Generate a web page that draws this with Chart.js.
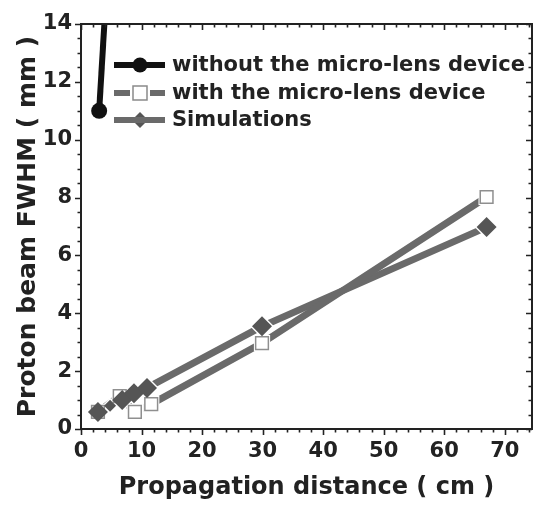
<!DOCTYPE html>
<html>
<head>
<meta charset="utf-8">
<script src="https://cdn.jsdelivr.net/npm/chart.js@4"></script>
<style>
  html, body { margin: 0; padding: 0; background: #fff; }
  #wrap { width: 537px; height: 506px; position: relative; }
</style>
</head>
<body>
<div id="wrap"><canvas id="fwhmChart"></canvas></div>
<script>
// Data
const withoutX = [3, 7];
const withoutY = [11, 25];

const withX = [2.8, 6.4, 8.9, 11.6, 29.9, 67];
const withY = [0.59, 1.14, 0.59, 0.86, 2.97, 8.02];

const simX = [2.8, 4.8, 6.8, 8.75, 10.9, 29.9, 67];
const simY = [0.59, 0.8, 1.0, 1.24, 1.42, 3.55, 6.98];

const xTicks = [0, 10, 20, 30, 40, 50, 60, 70];
const yTicks = [0, 2, 4, 6, 8, 10, 12, 14];

const seriesLabels = [
    'without the micro-lens device',
    'with the micro-lens device',
    'Simulations'
];

const TEXT = '#222';
const LINE_GRAY = '#6a6a6a';
const FONT = "'DejaVu Sans', sans-serif";

function toPoints(xs, ys) {
    return xs.map((x, i) => ({ x: x, y: ys[i] }));
}

// Frame with major/minor ticks on all four sides
const framePlugin = {
    id: 'frame',
    afterDraw(chart) {
        const { ctx, chartArea: a, scales } = chart;
        const xs = scales.x, ys = scales.y;
        ctx.save();
        ctx.strokeStyle = '#222';
        ctx.lineWidth = 2;
        ctx.strokeRect(a.left, a.top, a.right - a.left, a.bottom - a.top);
        ctx.lineWidth = 1.6;
        ctx.beginPath();
        for (let v = 0; v <= 74.5; v += 2) {
            const px = Math.round(xs.getPixelForValue(v)) + 0.5;
            const major = v % 10 === 0;
            const len = major ? 6 : 3.5;
            ctx.moveTo(px, a.bottom); ctx.lineTo(px, a.bottom + len);
            ctx.moveTo(px, a.top); ctx.lineTo(px, a.top + len);
        }
        for (let v = 0; v <= 14; v += 0.5) {
            const py = Math.round(ys.getPixelForValue(v)) + 0.5;
            const major = v % 2 === 0;
            const len = major ? 6 : 3.5;
            ctx.moveTo(a.left, py); ctx.lineTo(a.left - len, py);
            ctx.moveTo(a.right, py); ctx.lineTo(a.right - len, py);
        }
        ctx.stroke();
        ctx.restore();
    }
};

// Origin-style legend: line segment with a marker in the middle
const legendPlugin = {
    id: 'originLegend',
    afterDraw(chart) {
        const ctx = chart.ctx;
        const rows = [
            { y: 65, color: '#111', width: 6, marker: 'circle' },
            { y: 93, color: LINE_GRAY, width: 6, marker: 'square' },
            { y: 120, color: LINE_GRAY, width: 6, marker: 'diamond' }
        ];
        ctx.save();
        rows.forEach((r, i) => {
            ctx.strokeStyle = r.color;
            ctx.lineWidth = r.width;
            ctx.beginPath();
            ctx.moveTo(114, r.y); ctx.lineTo(130, r.y);
            ctx.moveTo(150, r.y); ctx.lineTo(165, r.y);
            ctx.stroke();
            const cx = 140;
            if (r.marker === 'circle') {
                ctx.fillStyle = '#111';
                ctx.beginPath(); ctx.arc(cx, r.y, 7.5, 0, Math.PI * 2); ctx.fill();
                ctx.fillRect(128, r.y - 3, 24, 6);
            } else if (r.marker === 'square') {
                ctx.fillStyle = '#fff';
                ctx.strokeStyle = '#8a8a8a';
                ctx.lineWidth = 1.5;
                ctx.fillRect(cx - 7, r.y - 7, 14, 14);
                ctx.strokeRect(cx - 7, r.y - 7, 14, 14);
            } else {
                ctx.fillStyle = '#555';
                ctx.beginPath();
                ctx.moveTo(cx, r.y - 8); ctx.lineTo(cx + 8, r.y);
                ctx.lineTo(cx, r.y + 8); ctx.lineTo(cx - 8, r.y);
                ctx.closePath(); ctx.fill();
                ctx.strokeStyle = LINE_GRAY;
                ctx.lineWidth = 6;
                ctx.beginPath();
                ctx.moveTo(128, r.y); ctx.lineTo(152, r.y);
                ctx.stroke();
            }
            ctx.fillStyle = TEXT;
            ctx.font = 'bold 21px ' + FONT;
            ctx.textBaseline = 'middle';
            ctx.fillText(seriesLabels[i], 172, r.y + 1);
        });
        ctx.restore();
    }
};

const ctx = document.getElementById('fwhmChart').getContext('2d');

new Chart(ctx, {
    type: 'scatter',
    data: {
        datasets: [
            // lines
            { data: toPoints(withoutX, withoutY), showLine: true, borderColor: '#111', borderWidth: 6,
              pointRadius: 0, order: 3 },
            { data: toPoints(withX, withY), showLine: true, borderColor: LINE_GRAY, borderWidth: 7,
              pointRadius: 0, order: 3 },
            { data: toPoints(simX, simY), showLine: true, borderColor: LINE_GRAY, borderWidth: 7,
              pointRadius: 0, order: 3 },
            // white halos to open small gaps in the lines around the markers
            { data: toPoints(withX, withY), pointStyle: 'rect', pointRadius: 11.5,
              backgroundColor: '#fff', borderWidth: 0, order: 2 },
            { data: toPoints(simX, simY), pointStyle: 'rectRot', pointRadius: [12, 8, 12, 12, 12, 12, 12],
              backgroundColor: '#fff', borderWidth: 0, order: 2 },
            // markers
            { label: seriesLabels[0], data: toPoints(withoutX, withoutY), pointStyle: 'circle', pointRadius: 8,
              backgroundColor: '#111', borderColor: '#111', borderWidth: 0, order: 1 },
            { label: seriesLabels[1], data: toPoints(withX, withY), pointStyle: 'rect', pointRadius: 9,
              backgroundColor: '#fff', borderColor: '#8f8f8f', borderWidth: 1.5, order: 1 },
            { label: seriesLabels[2], data: toPoints(simX, simY), pointStyle: 'rectRot',
              pointRadius: [10, 6, 10, 10, 10, 10, 10],
              backgroundColor: '#555', borderColor: '#555', borderWidth: 0, order: 0 }
        ]
    },
    options: {
        responsive: true,
        maintainAspectRatio: false,
        animation: false,
        layout: {
            autoPadding: false,
            padding: { top: 24, right: 5, left: 0, bottom: 0 }
        },
        plugins: {
            legend: { display: false },
            tooltip: { enabled: false }
        },
        scales: {
            x: {
                type: 'linear',
                min: 0,
                max: 74.5,
                grid: { display: false, drawTicks: false },
                border: { display: false },
                afterBuildTicks: (s) => { s.ticks = xTicks.map(v => ({ value: v })); },
                afterFit: (s) => {
                    s.height = 77;
                    s.paddingLeft = 0;
                    s.paddingRight = 0;
                },
                ticks: {
                    color: TEXT,
                    padding: 10,
                    maxRotation: 0,
                    font: { family: FONT, size: 21, weight: 'bold' }
                },
                title: {
                    display: true,
                    text: 'Propagation distance ( cm )',
                    color: TEXT,
                    padding: { top: 0, bottom: 4 },
                    font: { family: FONT, size: 24, weight: 'bold' }
                }
            },
            y: {
                type: 'linear',
                min: 0,
                max: 14,
                grid: { display: false, drawTicks: false },
                border: { display: false },
                afterBuildTicks: (s) => { s.ticks = yTicks.map(v => ({ value: v })); },
                afterFit: (s) => {
                    s.width = 81;
                    s.paddingTop = 0;
                    s.paddingBottom = 0;
                },
                ticks: {
                    color: TEXT,
                    padding: 9,
                    font: { family: FONT, size: 21, weight: 'bold' }
                },
                title: {
                    display: true,
                    text: 'Proton beam FWHM ( mm )',
                    color: TEXT,
                    padding: { top: 13, bottom: 0 },
                    font: { family: FONT, size: 25, weight: 'bold' }
                }
            }
        }
    },
    plugins: [framePlugin, legendPlugin]
});
</script>
</body>
</html>
